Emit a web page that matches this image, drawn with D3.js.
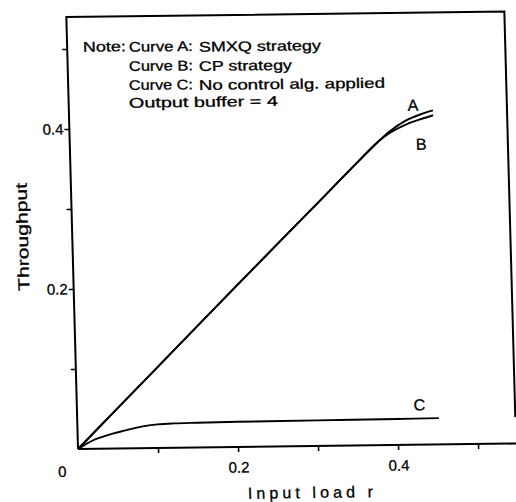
<!DOCTYPE html>
<html>
<head>
<meta charset="utf-8">
<script src="https://cdn.jsdelivr.net/npm/d3@7"></script>
<style>
  body { margin: 0; background: #fff; }
  svg { display: block; }
  text { font-family: "Liberation Sans", Arial, sans-serif; fill: #000; stroke: #000; stroke-width: 0.3px; }
</style>
</head>
<body>
<script>
// Curves A (SMXQ) and B (CP) share the same loads
const inputLoad = [0, 0.1, 0.2, 0.3, 0.36, 0.385, 0.40, 0.42, 0.44, 0.455];
const curveA = [0, 0.099, 0.198, 0.296, 0.355, 0.379, 0.392, 0.405, 0.413, 0.4175];
const curveB = [0, 0.099, 0.198, 0.296, 0.355, 0.379, 0.390, 0.400, 0.407, 0.4115];
// Curve C (no control)
const loadC = [0, 0.01, 0.02, 0.03, 0.045, 0.06, 0.08, 0.1, 0.12, 0.15, 0.2, 0.3, 0.4, 0.452];
const curveC = [0, 0.006, 0.011, 0.0145, 0.019, 0.0225, 0.027, 0.0295, 0.0305, 0.031, 0.0315, 0.032, 0.0325, 0.033];

const ticks = [0.1, 0.2, 0.3, 0.4, 0.5];
const tickLabels = [0.2, 0.4];
const curveNames = ["A", "B", "C"];
// where the curve letters sit (data units)
const nameX = [0.430, 0.439, 0.428];
const nameY = [0.4246, 0.3758, 0.050];

const noteLines = [
  ["Note:", "Curve A:", "SMXQ  strategy"],
  ["", "Curve B:", "CP  strategy"],
  ["", "Curve C:", "No  control  alg.  applied"],
  ["", "Output  buffer = 4", ""]
];

const width = 516, height = 502;
const svg = d3.select("body").append("svg").attr("width", width).attr("height", height);

const x = d3.scaleLinear().domain([0, 0.5]).range([78, 478]);
const y = d3.scaleLinear().domain([0, 0.5]).range([449, 49]);

// the scanned figure is slightly sheared; reproduce that
const shx = 0.027, shy = -0.0125;
const g = svg.append("g")
  .attr("transform", "translate(78,449) matrix(1," + shy + "," + shx + ",1,0,0) translate(-78,-449)");

// helper: page position -> unsheared position
function unshear(px, py) {
  const sx = px - shx * (py - 449);
  const sy = py - shy * (sx - 78);
  return [sx, sy];
}

// frame
const xMax = 0.5475, yMax = 0.54;
g.append("path")
  .attr("d", d3.line()([[x(0), y(0)], [x(0), y(yMax)], [x(xMax), y(yMax)], [x(xMax), y(0.033)]]))
  .attr("fill", "none").attr("stroke", "#000").attr("stroke-width", 2);

// x axis
const xAxis = d3.axisBottom(x).tickValues(ticks).tickSize(5).tickPadding(10)
  .tickFormat(d => tickLabels.includes(d) ? d3.format(".1f")(d) : "");
const gx = g.append("g").attr("transform", "translate(0," + y(0) + ")").call(xAxis);
gx.select(".domain").remove();
gx.selectAll("line").attr("stroke-width", 1.6);
gx.selectAll("text").attr("fill", "#000").style("font-size", "15px").style("font-family", "Liberation Sans, Arial, sans-serif");
g.append("line")
  .attr("x1", x(0)).attr("x2", x(0.56)).attr("y1", y(0)).attr("y2", y(0))
  .attr("stroke", "#000").attr("stroke-width", 2);

// y axis
const yAxis = d3.axisLeft(y).tickValues(ticks).tickSize(5).tickPadding(1)
  .tickFormat(d => tickLabels.includes(d) ? d3.format(".1f")(d) : "");
const gy = g.append("g").attr("transform", "translate(" + x(0) + ",0)").call(yAxis);
gy.select(".domain").remove();
gy.selectAll("line").attr("stroke-width", 1.6);
gy.selectAll("text").attr("fill", "#000").style("font-size", "15px").style("font-family", "Liberation Sans, Arial, sans-serif");

// origin label
let p = unshear(62.5, 477);
g.append("text").attr("x", p[0]).attr("y", p[1]).attr("text-anchor", "middle")
  .style("font-size", "15px").text("0");

// curves
const line = d3.line().x(d => x(d[0])).y(d => y(d[1])).curve(d3.curveMonotoneX);
const series = [
  d3.zip(inputLoad, curveA),
  d3.zip(inputLoad, curveB),
  d3.zip(loadC, curveC)
];
g.selectAll(".curve").data(series).enter().append("path")
  .attr("class", "curve")
  .attr("d", line)
  .attr("fill", "none").attr("stroke", "#000").attr("stroke-width", 1.9);

g.selectAll(".cname").data(curveNames).enter().append("text")
  .attr("class", "cname")
  .attr("x", (d, i) => x(nameX[i]))
  .attr("y", (d, i) => y(nameY[i]))
  .attr("dy", "0.36em")
  .attr("text-anchor", "middle")
  .style("font-size", "16px")
  .text(d => d);

// note block
const noteY = [51.7, 71, 90, 107.7];
const colX = [83, 129, 199];
const colW = [
  [43, 64, 122],
  [0, 64, 93],
  [0, 64, 186],
  [0, 149, 0]
];
noteLines.forEach((row, r) => {
  row.forEach((txt, c) => {
    if (!txt) return;
    const q = unshear(colX[c], noteY[r]);
    g.append("text").attr("x", q[0]).attr("y", q[1])
      .attr("textLength", colW[r][c]).attr("lengthAdjust", "spacingAndGlyphs")
      .style("font-size", "14px")
      .text(txt);
  });
});

// axis titles
p = unshear(22, 237);
g.append("text")
  .attr("transform", "translate(" + (p[0] + 6) + "," + p[1] + ") rotate(-90)")
  .attr("text-anchor", "middle")
  .attr("textLength", 108).attr("lengthAdjust", "spacingAndGlyphs")
  .style("font-size", "16px")
  .text("Throughput");

p = unshear(310, 498);
g.append("text").attr("x", p[0] - 62).attr("y", p[1])
  .attr("textLength", 125).attr("lengthAdjust", "spacing")
  .style("font-size", "16px")
  .text("Input  load  r");
</script>
</body>
</html>
